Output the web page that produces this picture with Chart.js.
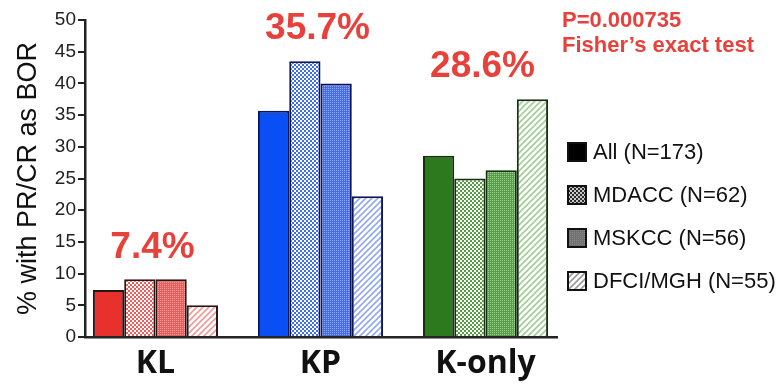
<!DOCTYPE html>
<html>
<head>
<meta charset="utf-8">
<script src="https://cdn.jsdelivr.net/npm/chart.js@4/dist/chart.umd.min.js"></script>
<style>
  html, body { margin: 0; padding: 0; background: #fff; }
  #wrap { width: 781px; height: 385px; }
</style>
</head>
<body>
<div id="wrap"><canvas id="chart" width="781" height="385"></canvas></div>
<script>
const groups = ['KL', 'KP', 'K-only'];
const cohorts = ['All (N=173)', 'MDACC (N=62)', 'MSKCC (N=56)', 'DFCI/MGH (N=55)'];
const allPts = [7.4, 35.7, 28.6];
const mdacc = [9.1, 43.5, 25.0];
const mskcc = [9.1, 40.0, 26.3];
const dfci = [5.0, 22.2, 37.5];
const yTicks = [0, 5, 10, 15, 20, 25, 30, 35, 40, 45, 50];
const pValue = 'P=0.000735';
const testName = 'Fisher\u2019s exact test';

// colour family per group: red, blue, green
const solid = ['#e8302c', '#0a4ff5', '#2b7a1d'];
const mid = ['#f05a57', '#3f6df0', '#52a041'];
const light = ['#f29a98', '#93a9f2', '#a0cf93'];
const edge = ['#2a1414', '#0b1758', '#15300d'];

const ctx = document.getElementById('chart').getContext('2d');

function tile(w, h, draw) {
  const c = document.createElement('canvas');
  c.width = w; c.height = h;
  draw(c.getContext('2d'));
  return ctx.createPattern(c, 'repeat');
}
function checker(col, bg) {
  return tile(4, 4, g => {
    g.fillStyle = col; g.fillRect(0, 0, 4, 4);
    g.fillStyle = bg; g.fillRect(0, 0, 2, 2); g.fillRect(2, 2, 2, 2);
  });
}
function dotted(col, dot) {
  return tile(2, 2, g => {
    g.fillStyle = col; g.fillRect(0, 0, 2, 2);
    g.fillStyle = dot; g.fillRect(0, 0, 1, 1);
  });
}
function hatch(col) {
  return tile(6, 6, g => {
    g.fillStyle = '#fff'; g.fillRect(0, 0, 6, 6);
    g.strokeStyle = col; g.lineWidth = 1.6;
    g.beginPath();
    g.moveTo(0, 6); g.lineTo(6, 0);
    g.moveTo(-3, 3); g.lineTo(3, -3);
    g.moveTo(3, 9); g.lineTo(9, 3);
    g.stroke();
  });
}

const legendFill = ['#000', checker('#2a2a2a', '#c8c8c8'), dotted('#707070', '#8a8a8a'), hatch('#999')];

const toXY = arr => arr.map((v, i) => ({ x: i, y: v }));

const annotate = {
  id: 'annotate',
  afterDraw(chart) {
    const { ctx, chartArea, scales: { x, y } } = chart;
    ctx.save();
    // overall response rate above each cluster
    ctx.fillStyle = '#e8403a';
    ctx.font = 'bold 37px "Liberation Sans", Arial, sans-serif';
    ctx.textAlign = 'center';
    ctx.textBaseline = 'middle';
    allPts.forEach((v, i) => {
      const top = Math.max(allPts[i], mdacc[i], mskcc[i], dfci[i]);
      ctx.fillText(v.toFixed(1) + '%', x.getPixelForValue(i) - 3, y.getPixelForValue(top) - 32);
    });

    // p-value note
    ctx.font = 'bold 22px "Liberation Sans", Arial, sans-serif';
    ctx.textAlign = 'left';
    ctx.textBaseline = 'alphabetic';
    ctx.fillText(pValue, chartArea.right + 5, chartArea.top + 7);
    ctx.fillText(testName, chartArea.right + 5, chartArea.top + 32);

    // legend
    const lx = chartArea.right + 10;
    ctx.font = '22px "Liberation Sans", Arial, sans-serif';
    ctx.textBaseline = 'middle';
    cohorts.forEach((name, i) => {
      const cy = chartArea.top + 132 + i * 43;
      ctx.fillStyle = legendFill[i];
      ctx.fillRect(lx, cy - 10, 20, 20);
      ctx.strokeStyle = '#111';
      ctx.lineWidth = 2;
      ctx.strokeRect(lx + 1, cy - 9, 18, 18);
      ctx.fillStyle = '#111';
      ctx.fillText(name, lx + 26, cy + 1);
    });
    ctx.restore();
  }
};

Chart.defaults.font.family = '"Liberation Sans", Arial, sans-serif';

new Chart(ctx, {
  type: 'bar',
  data: {
    datasets: [
      { label: cohorts[0], data: toXY(allPts), backgroundColor: solid },
      { label: cohorts[1], data: toXY(mdacc), backgroundColor: mid.map(c => checker(c, '#fff')) },
      { label: cohorts[2], data: toXY(mskcc), backgroundColor: mid.map((c, i) => dotted(c, light[i])) },
      { label: cohorts[3], data: toXY(dfci), backgroundColor: light.map(c => hatch(c)) }
    ].map(ds => Object.assign(ds, {
      borderColor: edge,
      borderWidth: 2,
      categoryPercentage: 0.758,
      barPercentage: 1
    }))
  },
  options: {
    responsive: false,
    animation: false,
    layout: { padding: { top: 20, right: 224, bottom: 0, left: 0 } },
    plugins: { legend: { display: false }, tooltip: { enabled: false } },
    scales: {
      x: {
        type: 'linear',
        min: -0.427,
        max: 2.433,
        offset: false,
        afterBuildTicks: s => { s.ticks = groups.map((g, i) => ({ value: i })); },
        afterFit: s => { s.height = 48; },
        border: { color: '#222', width: 2.5 },
        grid: { drawOnChartArea: false, drawTicks: false },
        ticks: {
          callback: v => groups[v],
          color: '#111',
          padding: 8,
          maxRotation: 0,
          font: { family: '"Open Sans", sans-serif', weight: 'bold', size: 32 }
        }
      },
      y: {
        min: 0,
        max: 50,
        afterBuildTicks: s => { s.ticks = yTicks.map(v => ({ value: v })); },
        afterFit: s => { s.width = 85; },
        border: { color: '#222', width: 2.5 },
        grid: { drawOnChartArea: false, drawTicks: true, tickLength: 7, color: '#222', lineWidth: 2 },
        ticks: { color: '#222', padding: 2, font: { size: 19 } },
        title: {
          display: true,
          text: '% with PR/CR as BOR',
          color: '#111',
          font: { size: 27 },
          padding: { top: 12, bottom: 0 }
        }
      }
    }
  },
  plugins: [annotate]
});
</script>
</body>
</html>
